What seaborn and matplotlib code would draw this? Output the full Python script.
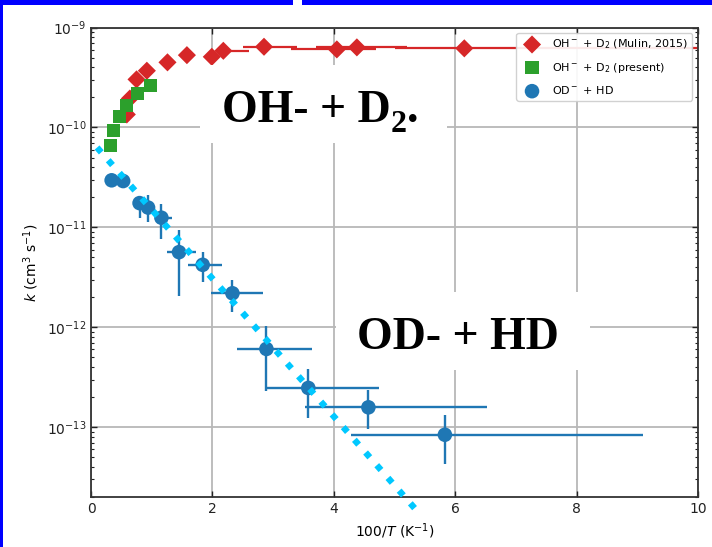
import numpy as np
import pandas as pd
import matplotlib
matplotlib.use("Agg")
import matplotlib.pyplot as plt
import seaborn as sns
from matplotlib.patches import Rectangle

# ---------------- data ----------------
# OH- + D2 (Mulin, 2015)
mulin_x = [0.59, 0.64, 0.75, 0.92, 1.26, 1.58, 1.99, 2.18, 2.85, 4.05, 4.38, 6.15]
mulin_k = [1.35e-10, 1.95e-10, 3.03e-10, 3.7e-10, 4.49e-10, 5.3e-10, 5.1e-10,
           5.86e-10, 6.43e-10, 6.05e-10, 6.34e-10, 6.2e-10]
mulin_xlo = [0.59, 0.64, 0.75, 0.92, 1.26, 1.58, 1.99, 2.18, 2.50, 3.30, 3.70, 5.00]
mulin_xhi = [0.59, 0.64, 0.75, 0.92, 1.26, 1.58, 1.99, 2.60, 3.40, 4.70, 5.20, 10.0]

# OH- + D2 (present)
pres_x = [0.325, 0.37, 0.47, 0.58, 0.76, 0.98]
pres_k = [6.64e-11, 9.4e-11, 1.28e-10, 1.67e-10, 2.19e-10, 2.65e-10]

# OD- + HD
od_x = [0.34, 0.53, 0.80, 0.94, 1.16, 1.45, 1.84, 2.33, 2.89, 3.58, 4.57, 5.83]
od_k = [2.96e-11, 2.91e-11, 1.75e-11, 1.58e-11, 1.25e-11, 5.65e-12, 4.22e-12,
        2.19e-12, 6.07e-13, 2.47e-13, 1.58e-13, 8.4e-14]
od_klo = [2.96e-11, 2.91e-11, 1.25e-11, 1.13e-11, 7.71e-12, 2.08e-12, 2.82e-12,
          1.41e-12, 2.32e-13, 1.23e-13, 9.57e-14, 4.27e-14]
od_khi = [2.96e-11, 2.91e-11, 2.01e-11, 2.09e-11, 1.73e-11, 9.33e-12, 5.65e-12,
          2.98e-12, 1.04e-12, 3.83e-13, 2.36e-13, 1.32e-13]
od_xlo = [0.34, 0.53, 0.80, 0.94, 1.05, 1.26, 1.60, 1.97, 2.40, 2.89, 3.53, 4.29]
od_xhi = [0.34, 0.53, 0.80, 0.94, 1.33, 1.73, 2.16, 2.83, 3.64, 4.74, 6.53, 9.09]

# Arrhenius-type fit line (dotted)
fit_x = [0.1, 5.35]
fit_k = [6.3e-11, 1.5e-14]

x_ticks = [0, 2, 4, 6, 8, 10]

label_mulin = r"OH$^-$ + D$_2$ (Mulin, 2015)"
label_pres = r"OH$^-$ + D$_2$ (present)"
label_od = r"OD$^-$ + HD"

# ---------------- style ----------------
sns.set_style("ticks")
plt.rcParams["font.family"] = ["DejaVu Sans"]
plt.rcParams["mathtext.fontset"] = "dejavusans"
plt.rcParams["text.color"] = "black"
plt.rcParams["axes.labelcolor"] = "black"

W, H = 712, 547
fig = plt.figure(figsize=(W / 100, H / 100), dpi=100)
fig.patch.set_facecolor("#0000ff")
fig.add_artist(Rectangle((3 / W, 0), 1, 1 - 5 / H, transform=fig.transFigure,
                         facecolor="white", edgecolor="none", zorder=-5))
fig.add_artist(Rectangle((293 / W, 1 - 5 / H), 9 / W, 5 / H, transform=fig.transFigure,
                         facecolor="white", edgecolor="none", zorder=-5))

ax = fig.add_axes([91 / W, 1 - 497 / H, (698 - 91) / W, (497 - 27.6) / H])
ax.set_facecolor("white")

red = "#d62728"
green = "#2ca02c"
blue = "#1f77b4"
cyan = "#00c8ff"

df_m = pd.DataFrame({"x": mulin_x, "k": mulin_k})
df_p = pd.DataFrame({"x": pres_x, "k": pres_k})
df_o = pd.DataFrame({"x": od_x, "k": od_k})

# Mulin horizontal bars
mx = np.array(mulin_x)
ax.errorbar(mulin_x, mulin_k,
            xerr=[mx - np.array(mulin_xlo), np.array(mulin_xhi) - mx],
            fmt="none", ecolor=red, elinewidth=1.6, zorder=2)
sns.scatterplot(data=df_m, x="x", y="k", ax=ax, marker="D", s=85, color=red,
                edgecolor="none", linewidth=0, label=label_mulin, zorder=3)
sns.scatterplot(data=df_p, x="x", y="k", ax=ax, marker="s", s=90, color=green,
                edgecolor="none", linewidth=0, label=label_pres, zorder=4)

ox = np.array(od_x)
ok = np.array(od_k)
ax.errorbar(od_x, od_k,
            xerr=[ox - np.array(od_xlo), np.array(od_xhi) - ox],
            yerr=[ok - np.array(od_klo), np.array(od_khi) - ok],
            fmt="none", ecolor=blue, elinewidth=1.7, zorder=3)
sns.scatterplot(data=df_o, x="x", y="k", ax=ax, marker="o", s=110, color=blue,
                edgecolor="none", linewidth=0, label=label_od, zorder=4)

fit_line = ax.plot(fit_x, fit_k, color=cyan, lw=4.6, linestyle=":",
                   zorder=6, clip_on=False)

ax.set_yscale("log")
ax.set_xlim(0, 10)
ax.set_ylim(2e-14, 1e-9)
ax.set_xticks(x_ticks)
ax.set_xticklabels([str(t) for t in x_ticks])
ax.grid(True, which="major", color="#b8b8b8", lw=1.3)
ax.tick_params(which="both", direction="in", top=True, right=True,
               labelsize=10, colors="#222222")
ax.tick_params(which="major", length=4, width=1)
ax.tick_params(which="minor", length=2.5, width=0.8)
for s in ax.spines.values():
    s.set_color("#333333")
    s.set_linewidth(1.3)

ax.set_xlabel(r"100/$T$ (K$^{-1}$)", fontsize=10, labelpad=4)
ax.set_ylabel(r"$k$ (cm$^3$ s$^{-1}$)", fontsize=10, labelpad=4)

leg = ax.legend(loc="upper right", fontsize=8, labelspacing=0.85,
                frameon=True, fancybox=True, framealpha=0.9, edgecolor="#cccccc")
leg.set_zorder(10)

# ---------------- overlay annotations ----------------
def fx(px):
    return px / W

def fy(py):
    return 1 - py / H

fig.add_artist(Rectangle((fx(200), fy(143)), (447 - 200) / W, (143 - 65) / H,
                         transform=fig.transFigure, facecolor="white",
                         edgecolor="none", zorder=20))
fig.add_artist(Rectangle((fx(336), fy(370)), (590 - 336) / W, (370 - 292) / H,
                         transform=fig.transFigure, facecolor="white",
                         edgecolor="none", zorder=20))

serif = ["Liberation Serif", "DejaVu Serif"]
t1 = fig.text(fx(222), fy(122), "OH- + D", fontsize=33, fontfamily=serif,
              fontweight="bold", ha="left", va="baseline", zorder=21, color="black")
fig.canvas.draw()
r = fig.canvas.get_renderer()
bb = t1.get_window_extent(r)
t2 = fig.text(bb.x1 / W, fy(131.5), "2", fontsize=23, fontfamily=serif,
              fontweight="bold", ha="left", va="baseline", zorder=21, color="black")
bb2 = t2.get_window_extent(r)
fig.text(bb2.x1 / W, fy(122), ".", fontsize=33, fontfamily=serif,
         fontweight="bold", ha="left", va="baseline", zorder=21, color="black")

fig.text(fx(357), fy(349.3), "OD- + HD", fontsize=33, fontfamily=serif,
         fontweight="bold", ha="left", va="baseline", zorder=21, color="black")

fig.savefig("out.png", dpi=100, facecolor=fig.get_facecolor())
